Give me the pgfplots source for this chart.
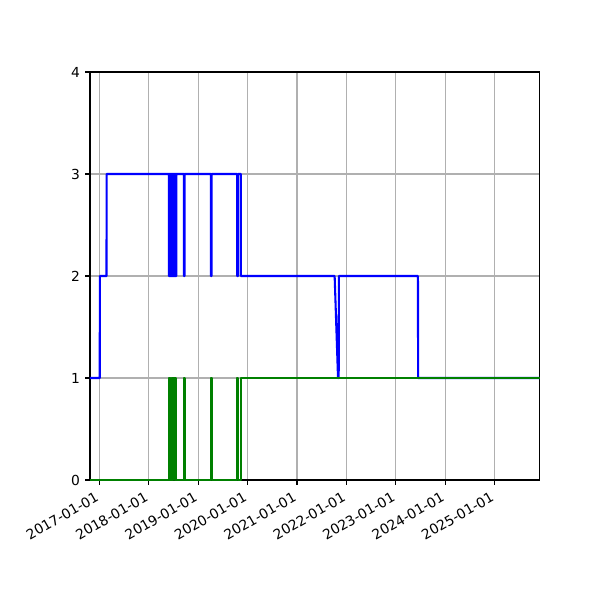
\documentclass[border=0pt]{standalone}
\usepackage{fontspec}
\setmainfont{DejaVu Sans}
\usepackage{pgfplots}
\pgfplotsset{compat=1.18}
\definecolor{mplgrid}{RGB}{176,176,176}
\definecolor{mplblue}{rgb}{0,0,1}
\definecolor{mplgreen}{rgb}{0,0.5,0}
\begin{document}
\begin{tikzpicture}
\useasboundingbox (-65.04pt,-86.72pt) rectangle (368.56pt,346.93pt);
\begin{axis}[
    at={(0pt,0pt)}, anchor=south west,
    scale only axis,
    width=325.2pt, height=294.9pt,
    xmin=-70, xmax=3257,
    ymin=0, ymax=4,
    ytick={0,1,2,3,4},
    % days since 2017-01-01
    xtick={0,365,730,1095,1461,1826,2191,2556,2922},
    xticklabels={2017-01-01,2018-01-01,2019-01-01,2020-01-01,2021-01-01,2022-01-01,2023-01-01,2024-01-01,2025-01-01},
    tick align=outside, tick pos=left,
    major tick length=3.5pt,
    every tick/.style={black, line width=0.8pt},
    axis line style={line width=0.8pt},
    grid=major,
    major grid style={mplgrid, line width=0.8pt},
    /pgf/number format/assume math mode=true,
    tick label style={font=\fontsize{10}{12}\selectfont},
    xticklabel style={rotate=30, anchor=north east, inner sep=0pt, xshift=-3.5pt, yshift=1pt},
    yticklabel style={inner sep=0pt},
    xticklabel shift=3.5pt,
    yticklabel shift=3.5pt,
  ]
  \addplot[mplblue, line width=1.5pt, line join=round, no marks] coordinates {
    (-70,1) (2,1) (3,2) (52,2) (53,3) (514,3)
    (514,2)(516,2)(516,3)(518,3)(518,2)(520,2)(520,3)(522,3)(522,2)(524,2)(524,3)
    (526,3)(526,2)(528,2)(528,3)(530,3)(530,2)(532,2)(532,3)(534,3)(534,2)(536,2)(536,3)
    (538,3)(538,2)(540,2)(540,3)(542,3)(542,2)(544,2)(544,3)(546,3)(546,2)(548,2)(548,3)
    (550,3)(550,2)(552,2)(552,3)(554,3)(554,2)(556,2)(556,3)(558,3)(558,2)(560,2)(560,3)
    (562,3)(562,2)(564,2)(564,3)(566,3)(566,2)(568,2)(568,3)
    (624,3)(624,2)(629,2)(629,3)
    (824,3)(824,2)(829,2)(829,3)
    (1018,3)(1018,2)(1025,2)(1025,3)
    (1046,3)(1046,2)
    (1739,2)(1764,1)(1769,1)(1770,2)
    (2355,2)(2356,1)(3257,1)
  };
  \addplot[mplgreen, line width=1.5pt, line join=round, no marks] coordinates {
    (-70,0) (514,0)
    (514,1)(516,1)(516,0)(518,0)(518,1)(520,1)(520,0)(522,0)(522,1)(524,1)(524,0)
    (526,0)(526,1)(528,1)(528,0)(530,0)(530,1)(532,1)(532,0)(534,0)(534,1)(536,1)(536,0)
    (538,0)(538,1)(540,1)(540,0)(542,0)(542,1)(544,1)(544,0)(546,0)(546,1)(548,1)(548,0)
    (550,0)(550,1)(552,1)(552,0)(554,0)(554,1)(556,1)(556,0)(558,0)(558,1)(560,1)(560,0)
    (562,0)(562,1)(564,1)(564,0)(566,0)(566,1)(568,1)(568,0)
    (624,0)(624,1)(629,1)(629,0)
    (824,0)(824,1)(829,1)(829,0)
    (1018,0)(1018,1)(1025,1)(1025,0)
    (1046,0)(1046,1)(3257,1)
  };
\end{axis}
\end{tikzpicture}
\end{document}
